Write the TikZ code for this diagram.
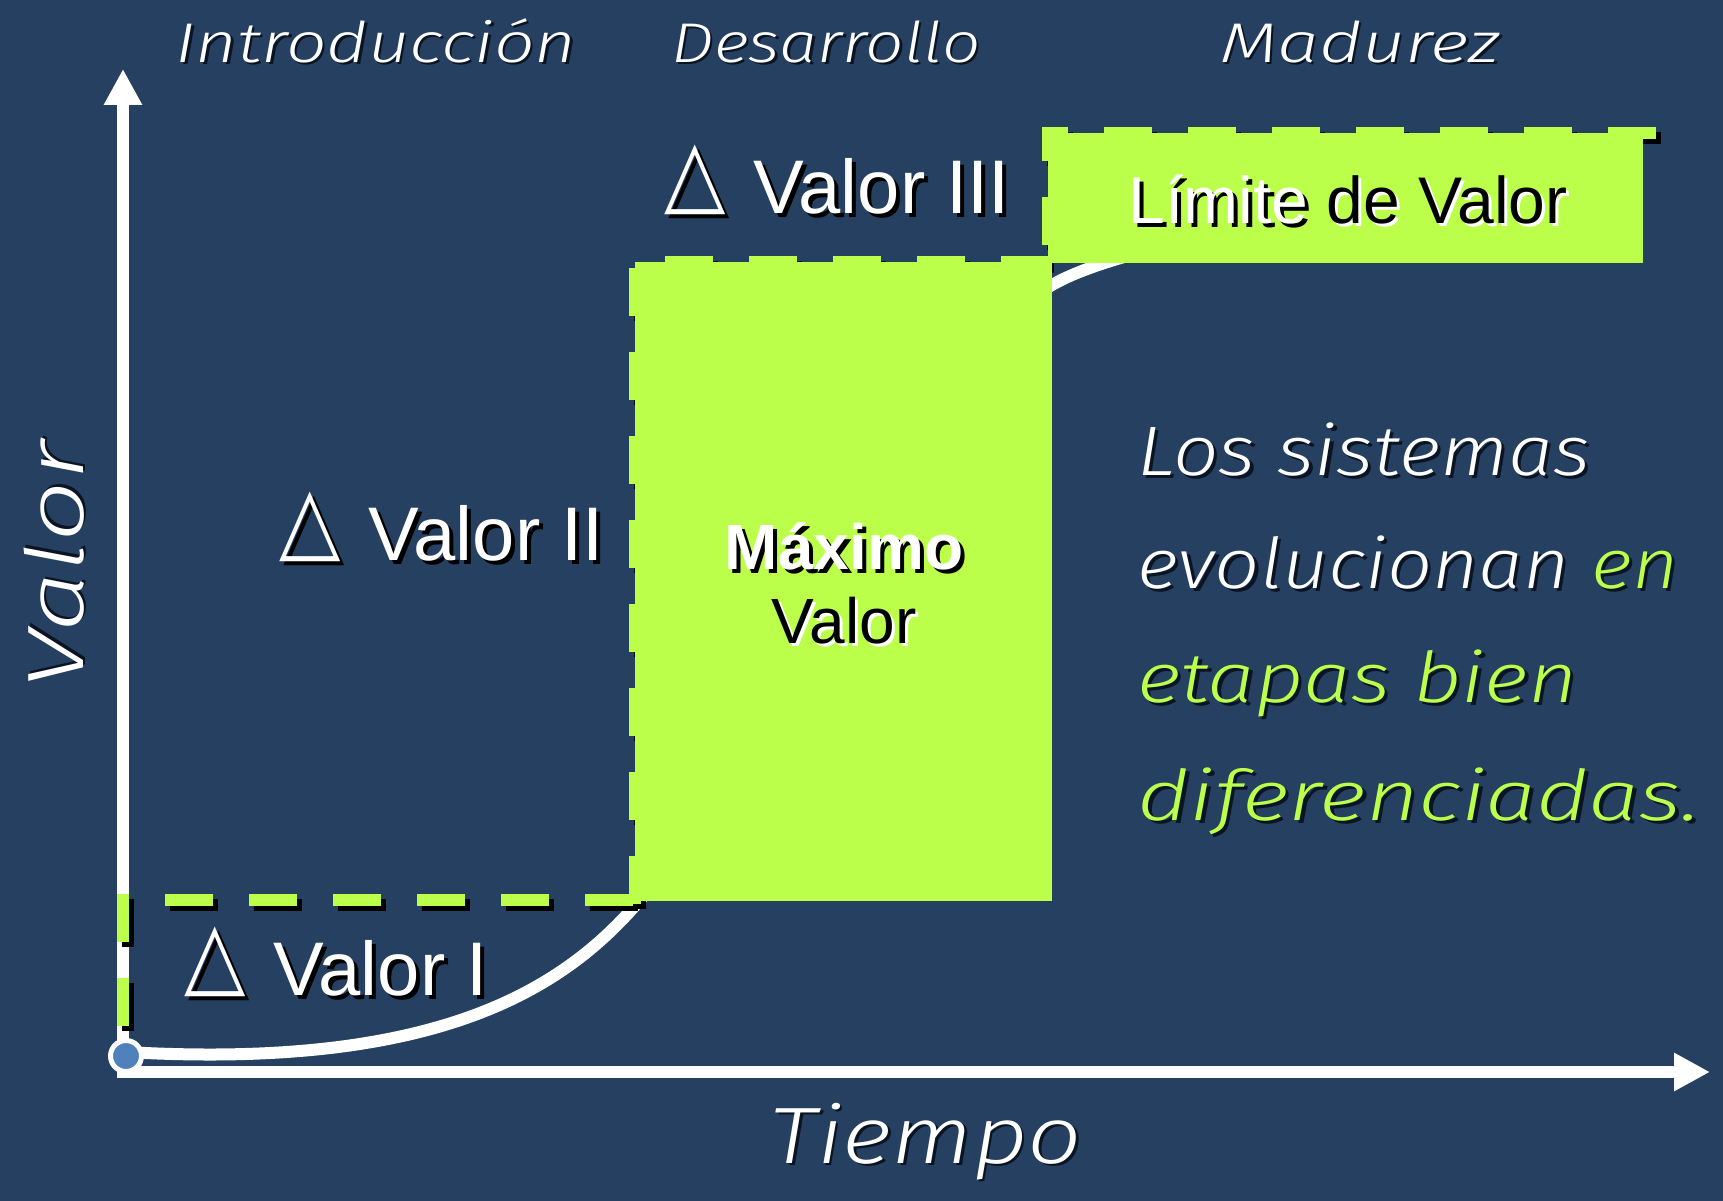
\documentclass[tikz,border=0pt]{standalone}
\usepackage{fontspec}
\usetikzlibrary{arrows.meta}
\setmainfont{Liberation Sans}
\IfFontExistsTF{Fira Sans Light}
  {\newfontfamily\handfam{Fira Sans Light}[ItalicFont={Fira Sans Light Italic}]}
  {\newfontfamily\handfam{Fira Sans}}
\newcommand\hand{\handfam\itshape}
\newfontfamily\symf{DejaVu Sans}
\definecolor{bgnavy}{RGB}{37,64,97}
\definecolor{lime}{RGB}{187,255,75}
\definecolor{dotblue}{RGB}{79,129,189}
\definecolor{hshadow}{RGB}{10,20,35}
% #1 offset, #2 shadow colour, #3 text colour, #4 text
\newcommand\shd[4]{\leavevmode\rlap{\kern#1\raisebox{-#1}{\textcolor{#2}{#4}}}\textcolor{#3}{#4}}
\newcommand\tri{{\symf\raisebox{10pt}{\scalebox{1.05}[1.2]{△}}}\hspace{28pt}}
\tikzset{
  dashln/.style={line width=12pt, dash pattern=on 48pt off 36pt},
  lbl/.style={inner sep=0pt, font=\fontsize{76}{82}\selectfont},
  boxlbl/.style={inner sep=0pt, font=\fontsize{64}{72}\selectfont},
  toplbl/.style={inner sep=0pt, font=\hand\fontsize{56}{60}\selectfont, anchor=base},
  axlbl/.style={inner sep=0pt, font=\hand\fontsize{80}{86}\selectfont, anchor=base},
  para/.style={inner sep=0pt, font=\hand\fontsize{70}{76}\selectfont, anchor=base west},
  axis/.style={white, line width=12pt, -{Triangle[length=36pt,width=36pt]}},
}
\begin{document}
\begin{tikzpicture}[x=1pt,y=-1pt]
\fill[bgnavy] (0,0) rectangle (1723,1201);
\useasboundingbox (0,0) rectangle (1723,1201);

% axes
\coordinate (o) at (123,1078);
\coordinate (ytip) at (123,69);
\coordinate (xo) at (119,1072);
\coordinate (xtip) at (1710,1072);
\draw[axis] (o) -- (ytip);
\draw[axis] (xo) -- (xtip);

% S-curve
\draw[white, line width=12pt] (126,1052) .. controls (440,1070) and (565,988) .. (640,900)
   .. controls (715,815) and (900,370) .. (1052,285)
   .. controls (1120,245) and (1350,200) .. (1640,195);

% Valor I dashed line
\draw[dashln, black, shift={(5,5)}] (123,1026) -- (123,900) -- (633,900);
\draw[dashln, lime] (123,1026) -- (123,900) -- (633,900);

% Maximo Valor box
\draw[dashln, black, shift={(5,5)}] (635,904) -- (635,262) -- (1052,262);
\draw[dashln, lime] (635,904) -- (635,262) -- (1052,262);
\fill[lime] (635,262) rectangle (1052,901);

% Limite de Valor box
\draw[dashln, black, shift={(5,5)}] (1048,245) -- (1048,133) -- (1662,133);
\draw[dashln, lime] (1048,245) -- (1048,133) -- (1662,133);
\fill[lime] (1048,133) rectangle (1643,263);

% origin dot
\node[circle, fill=dotblue, draw=white, line width=5pt, minimum size=31pt, inner sep=0pt] (orig) at (126,1056) {};

% labels
\node[lbl, anchor=base west] (v1) at (184,995) {\shd{4pt}{black}{white}{\tri Valor I}};
\node[lbl, anchor=base west] (v2) at (279,560) {\shd{4pt}{black}{white}{\tri Valor II}};
\node[lbl, anchor=base west] (v3) at (664,214) {\shd{4pt}{black}{white}{\tri Valor III}};

\node[boxlbl, anchor=base] (max1) at (844,569) {\bfseries\shd{4pt}{black}{white}{Máximo}};
\node[boxlbl, anchor=base] (max2) at (844,643) {\shd{3pt}{white}{black}{Valor}};
\node[inner sep=0pt, font=\fontsize{66}{72}\selectfont, anchor=base] (lim) at (1348,223)
  {\shd{4pt}{black}{white}{Límite} \shd{3pt}{white}{black}{de Valor}};

% stage names
\node[toplbl] (intro) at (376,63) {\resizebox{401pt}{\height}{\shd{2pt}{hshadow}{white}{Introducción}}};
\node[toplbl] (desa) at (826,63) {\resizebox{309pt}{\height}{\shd{2pt}{hshadow}{white}{Desarrollo}}};
\node[toplbl] (madu) at (1360,63) {\resizebox{280pt}{\height}{\shd{2pt}{hshadow}{white}{Madurez}}};

% axis names
\node[axlbl, rotate=90] (valor) at (83,565) {\resizebox{248pt}{\height}{\shd{2pt}{hshadow}{white}{Valor}}};
\node[axlbl] (tiempo) at (926,1163) {\resizebox{312pt}{\height}{\shd{2pt}{hshadow}{white}{Tiempo}}};

% paragraph
\node[para] (p1) at (1137,475) {\resizebox{453pt}{\height}{\shd{3pt}{hshadow}{white}{Los sistemas}}};
\node[para] (p2) at (1137,588) {\resizebox{541pt}{\height}{\shd{3pt}{hshadow}{white}{evolucionan} \shd{3pt}{hshadow}{lime}{en}}};
\node[para] (p3) at (1137,702) {\resizebox{440pt}{\height}{\shd{3pt}{hshadow}{lime}{etapas bien}}};
\node[para] (p4) at (1137,820) {\resizebox{563pt}{\height}{\shd{3pt}{hshadow}{lime}{diferenciadas.}}};
\end{tikzpicture}
\end{document}
